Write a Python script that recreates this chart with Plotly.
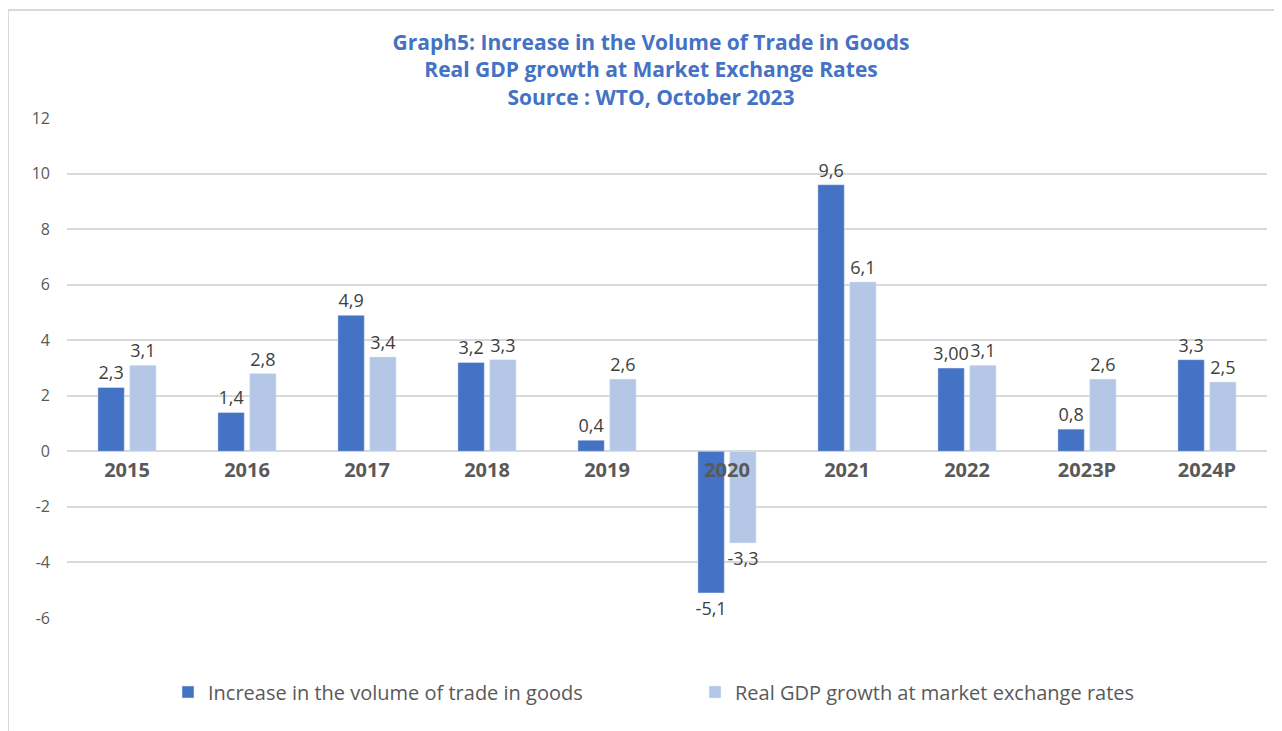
import plotly.graph_objects as go

categories = ["2015", "2016", "2017", "2018", "2019", "2020", "2021", "2022", "2023P", "2024P"]
trade_volume = [2.3, 1.4, 4.9, 3.2, 0.4, -5.1, 9.6, 3.0, 0.8, 3.3]
gdp_growth = [3.1, 2.8, 3.4, 3.3, 2.6, -3.3, 6.1, 3.1, 2.6, 2.5]
trade_labels = ["2,3", "1,4", "4,9", "3,2", "0,4", "-5,1", "9,6", "3,00", "0,8", "3,3"]
gdp_labels = ["3,1", "2,8", "3,4", "3,3", "2,6", "-3,3", "6,1", "3,1", "2,6", "2,5"]
y_ticks = [-6, -4, -2, 0, 2, 4, 6, 8, 10, 12]
y_tick_text = ["-6", "-4", "-2", "0", "2", "4", "6", "8", "10", "12"]

FONT = "Open Sans"
GREY = "#595959"

fig = go.Figure()
fig.add_trace(go.Bar(
    x=categories, y=trade_volume, name="Increase in the volume of trade in goods",
    marker=dict(color="#4472C4"), text=trade_labels, textposition="outside",
    textfont=dict(family=FONT, size=18, color="#404040"), cliponaxis=False,
    constraintext="none",
))
fig.add_trace(go.Bar(
    x=categories, y=gdp_growth, name="Real GDP growth at market exchange rates",
    marker=dict(color="#B4C7E7"), text=gdp_labels, textposition="outside",
    textfont=dict(family=FONT, size=18, color="#404040"), cliponaxis=False,
    constraintext="none",
))

fig.update_layout(
    width=1282, height=731,
    paper_bgcolor="white", plot_bgcolor="white",
    margin=dict(l=59, r=23, t=110, b=121, autoexpand=False),
    barmode="group", bargap=0.47, bargroupgap=0.17,
    title=dict(
        text="Graph5: Increase in the Volume of Trade in Goods<br>Real GDP growth at Market Exchange Rates<br>Source : WTO, October 2023",
        x=643 / 1282, xanchor="center", xref="container",
        y=1 - 42 / 731, yanchor="top", yref="container",
        font=dict(family=FONT, size=21, color="#4472C4", weight="bold"),
    ),
    font=dict(family=FONT, color=GREY),
    xaxis=dict(
        anchor="free", position=1 / 3, showgrid=False, showline=False, ticks="",
        tickfont=dict(family=FONT, size=20, color=GREY, weight="bold"),
        ticklabelstandoff=5, automargin=False,
    ),
    yaxis=dict(
        range=[-6, 12], tickvals=y_ticks, ticktext=y_tick_text,
        showgrid=True, gridcolor="#D9D9D9", gridwidth=1.5,
        zeroline=True, zerolinecolor="#D9D9D9", zerolinewidth=2,
        tickfont=dict(family=FONT, size=16, color=GREY), ticks="", ticklabelstandoff=16,
        automargin=False,
    ),
    legend=dict(
        orientation="h", xref="container", x=(185 - 25) / 1282, xanchor="left",
        yref="container", y=1 - 684 / 731, yanchor="middle",
        font=dict(family=FONT, size=20, color=GREY), entrywidth=482, entrywidthmode="pixels",
    ),
    shapes=[dict(
        type="rect", xref="paper", yref="paper",
        x0=(0 - 59) / 1200, x1=1.05, y0=-0.4, y1=1 + (110 - 2) / 500,
        line=dict(color="#D9D9D9", width=2), layer="below",
    )],
)

fig.write_html("out.html")
